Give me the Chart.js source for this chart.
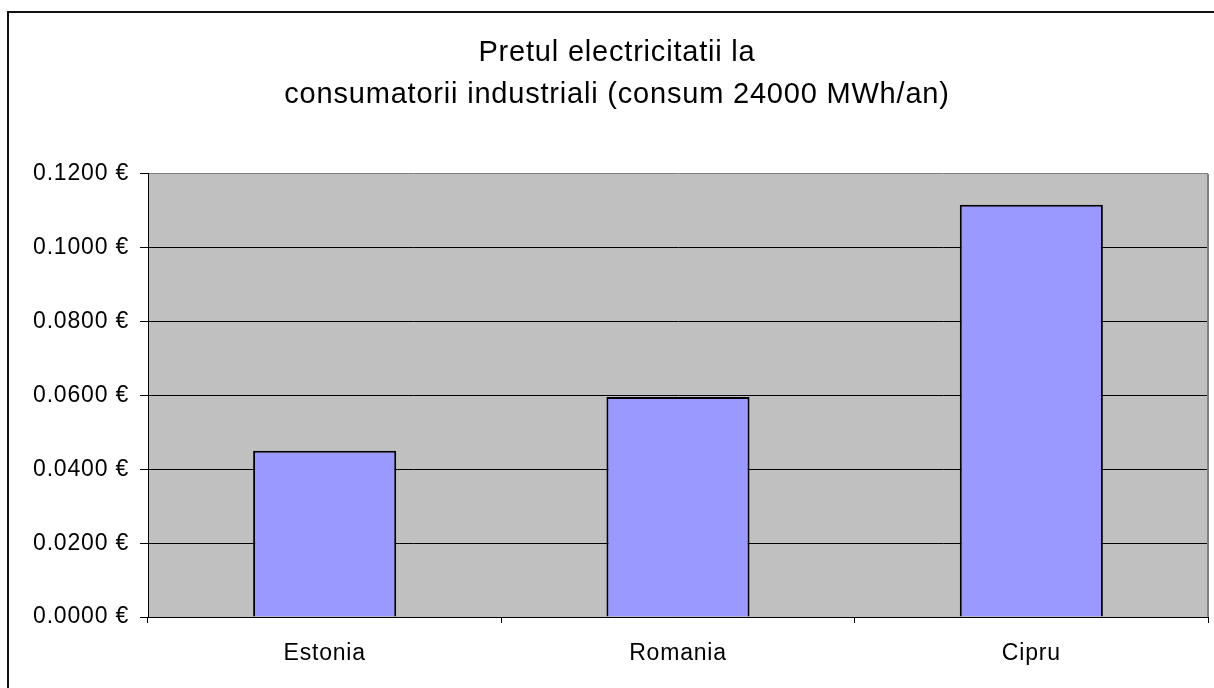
<!DOCTYPE html>
<html>
<head>
<meta charset="utf-8">
<script src="https://cdn.jsdelivr.net/npm/chart.js@4/dist/chart.umd.min.js"></script>
<style>
html,body{margin:0;padding:0;background:#fff;overflow:hidden;}
canvas{display:block;}
</style>
</head>
<body>
<canvas id="c" width="1214" height="688"></canvas>
<script>
const titleLines = ['Pretul electricitatii la', 'consumatorii industriali (consum 24000 MWh/an)'];
const categories = ['Estonia', 'Romania', 'Cipru'];
const prices = [0.0450, 0.0596, 0.1117];
const yTicks = [0, 0.02, 0.04, 0.06, 0.08, 0.10, 0.12];

const FONT = "'Liberation Sans', Arial, sans-serif";

const spacingPlugin = {
  id: 'spacing',
  beforeUpdate(chart) { chart.ctx.letterSpacing = '0.8px'; },
  beforeDraw(chart) {
    const ctx = chart.ctx;
    ctx.letterSpacing = '0.8px';
    const a = chart.chartArea;
    ctx.save();
    ctx.fillStyle = '#C0C0C0';
    ctx.fillRect(a.left, a.top, a.right - a.left, a.bottom - a.top);
    ctx.restore();
  },
  afterDraw(chart) {
    const ctx = chart.ctx;
    const a = chart.chartArea;
    ctx.save();
    ctx.strokeStyle = '#808080';
    ctx.lineWidth = 2;
    ctx.beginPath();
    ctx.moveTo(a.right, a.top);
    ctx.lineTo(a.right, a.bottom);
    ctx.stroke();
    ctx.strokeStyle = '#111';
    ctx.lineWidth = 2;
    ctx.strokeRect(8, 12, 1400, 900);
    ctx.restore();
  }
};

new Chart(document.getElementById('c'), {
  type: 'bar',
  data: {
    labels: categories,
    datasets: [{
      data: prices,
      backgroundColor: '#9999FF',
      borderColor: '#000',
      borderWidth: 2,
      barPercentage: 0.405,
      categoryPercentage: 1
    }]
  },
  options: {
    responsive: false,
    animation: false,
    devicePixelRatio: 1,
    layout: { padding: { left: 26, right: 6, top: 0, bottom: 0 } },
    plugins: {
      legend: { display: false },
      tooltip: { enabled: false },
      title: {
        display: true,
        text: titleLines,
        color: '#000',
        font: { family: FONT, size: 29, weight: 'normal', lineHeight: 1.448 },
        padding: { top: 32, bottom: 58 }
      }
    },
    scales: {
      x: {
        afterFit(s) { s.height = 71; },
        border: { color: '#000', width: 1 },
        grid: { display: true, drawOnChartArea: false, drawTicks: true, tickLength: 6, color: '#000', offset: true },
        ticks: { color: '#000', padding: 17, font: { family: FONT, size: 23 } }
      },
      y: {
        min: 0,
        max: 0.12,
        afterFit(s) { s.width = 122; },
        afterBuildTicks(s) { s.ticks = yTicks.map(v => ({ value: v })); },
        border: { color: '#000', width: 1 },
        grid: {
          color: c => (c.tick && Math.abs(c.tick.value - 0.12) < 1e-9) ? '#808080' : '#000',
          tickColor: '#000',
          lineWidth: 1,
          tickLength: 8
        },
        ticks: {
          color: '#000',
          padding: 11,
          font: { family: FONT, size: 23 },
          callback: v => Number(v).toFixed(4) + ' €'
        }
      }
    }
  },
  plugins: [spacingPlugin]
});
</script>
</body>
</html>
